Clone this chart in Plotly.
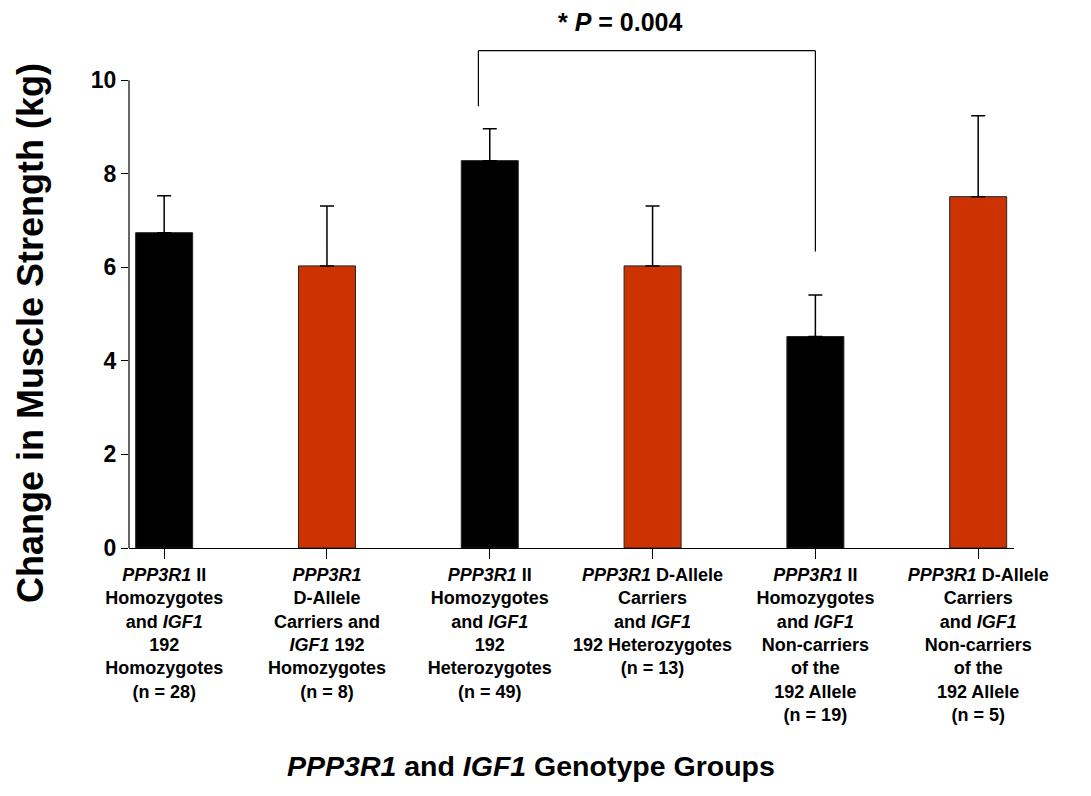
import plotly.graph_objects as go

# ---- data ----
group_labels = [
    "<i>PPP3R1</i> II<br>Homozygotes<br>and <i>IGF1</i><br>192<br>Homozygotes<br>(n = 28)",
    "<i>PPP3R1</i><br>D-Allele<br>Carriers and<br><i>IGF1</i> 192<br>Homozygotes<br>(n = 8)",
    "<i>PPP3R1</i> II<br>Homozygotes<br>and <i>IGF1</i><br>192<br>Heterozygotes<br>(n = 49)",
    "<i>PPP3R1</i> D-Allele<br>Carriers<br>and <i>IGF1</i><br>192 Heterozygotes<br>(n = 13)",
    "<i>PPP3R1</i> II<br>Homozygotes<br>and <i>IGF1</i><br>Non-carriers<br>of the<br>192 Allele<br>(n = 19)",
    "<i>PPP3R1</i> D-Allele<br>Carriers<br>and <i>IGF1</i><br>Non-carriers<br>of the<br>192 Allele<br>(n = 5)",
]
mean_change = [6.74, 6.03, 8.28, 6.03, 4.52, 7.51]
sem_upper = [0.79, 1.28, 0.68, 1.28, 0.89, 1.73]
ppp3r1_genotype = ["II", "D", "II", "D", "II", "D"]
y_tick_values = [0, 2, 4, 6, 8, 10]
p_value_text = "* <i>P</i> = 0.004"
x_title = "<i>PPP3R1</i> and <i>IGF1</i> Genotype Groups"
y_title = "Change in Muscle Strength (kg)"

# ---- styling ----
color_map = {"II": "#000000", "D": "#CC3300"}
bar_colors = [color_map[g] for g in ppp3r1_genotype]
FONT = "Liberation Sans, Arial, Helvetica, sans-serif"
x_positions = list(range(len(mean_change)))

# plot area in page pixels (page body has an 8px margin)
PL, PR, PT, PB = 129, 1014, 10, 548
BODY = 8
PW, PH = PR - PL, PB - PT

fig = go.Figure()
fig.add_trace(go.Bar(
    x=x_positions,
    y=mean_change,
    width=0.35,
    marker=dict(color=bar_colors, line=dict(color="#222222", width=1)),
    error_y=dict(type="data", symmetric=False, array=sem_upper,
                 arrayminus=[0] * len(sem_upper),
                 color="#000000", thickness=1.5, width=7),
    showlegend=False,
    hoverinfo="skip",
))

# y-axis line only up to 10
fig.add_shape(type="line", xref="paper", yref="y", x0=0, x1=0, y0=0, y1=10,
              line=dict(color="#000000", width=1.2))

# significance bracket between group 3 and group 5
br_left, br_right = 2, 4
br_top, br_left_bottom, br_right_bottom = 10.63, 9.44, 6.34
for (x0, y0, x1, y1) in [
    (br_left - 0.07, br_left_bottom, br_left - 0.07, br_top),
    (br_left - 0.07, br_top, br_right, br_top),
    (br_right, br_top, br_right, br_right_bottom),
]:
    fig.add_shape(type="line", xref="x", yref="y", x0=x0, y0=y0, x1=x1, y1=y1,
                  line=dict(color="#000000", width=1.2))

fig.add_annotation(x=2.8, y=11.24, xref="x", yref="y", text=p_value_text,
                   showarrow=False, font=dict(family=FONT, size=25, color="#000000", weight="bold"))

fig.add_annotation(x=(531 - PL) / PW, y=-(766 - PB) / PH, xref="paper", yref="paper",
                   text=x_title, showarrow=False, xanchor="center", yanchor="middle",
                   font=dict(family=FONT, size=28.5, color="#000000", weight="bold"))
fig.add_annotation(x=-(PL - 30) / PW, y=(PB - 333) / PH, xref="paper", yref="paper",
                   text=y_title, showarrow=False, textangle=-90, xanchor="center", yanchor="middle",
                   font=dict(family=FONT, size=36, color="#000000", weight="bold"))

fig.update_layout(
    width=1091, height=796,
    margin=dict(l=PL - BODY, r=1091 - PR + BODY, t=PT - BODY, b=796 - PB + BODY),
    paper_bgcolor="white", plot_bgcolor="white",
    font=dict(family=FONT, color="#000000"),
    xaxis=dict(
        range=[-0.216, 5.22], tickmode="array", tickvals=x_positions, ticktext=group_labels,
        showline=True, linecolor="#000000", linewidth=1.2, ticks="outside", ticklen=10,
        tickcolor="#000000", showgrid=False, zeroline=False,
        tickfont=dict(family=FONT, size=18, color="#000000", weight="bold"),
    ),
    yaxis=dict(
        range=[0, 11.5], tickmode="array", tickvals=y_tick_values,
        showline=False, ticks="outside", ticklen=7, tickcolor="#000000", tickwidth=1.2,
        showgrid=False, zeroline=False,
        tickfont=dict(family=FONT, size=23, color="#000000", weight="bold"),
    ),
)

fig.write_html("out.html")
